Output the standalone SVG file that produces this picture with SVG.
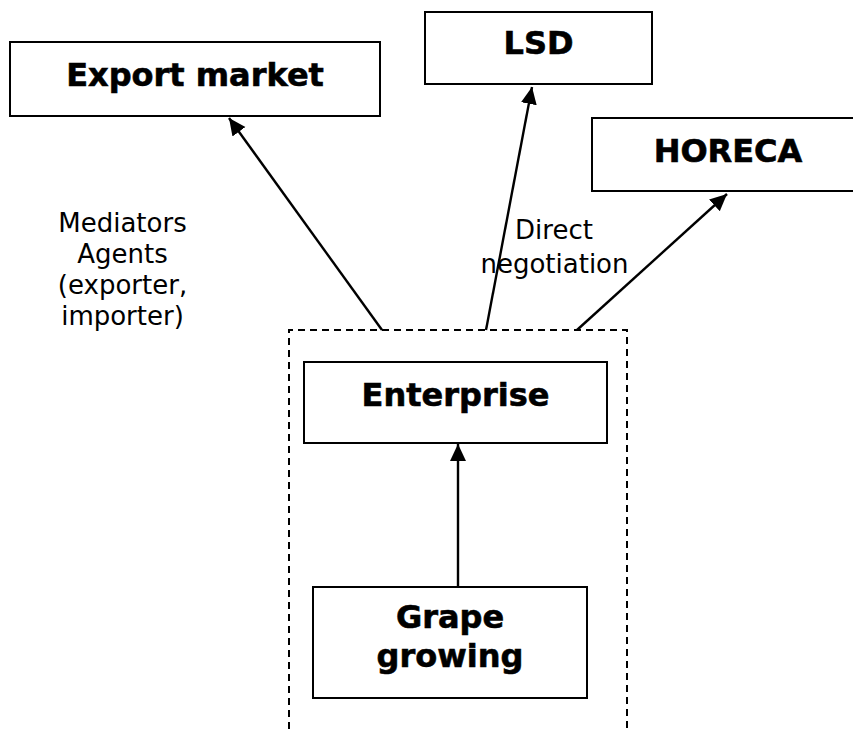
<svg xmlns="http://www.w3.org/2000/svg" width="853" height="729" viewBox="0 0 853 729">
  <style>
    .box { fill: #ffffff; stroke: #000000; stroke-width: 2; }
    .bold { font-family: "DejaVu Sans", Verdana, sans-serif; font-weight: bold; font-size: 32px; fill: #000; stroke: #000; stroke-width: 0.6; text-anchor: middle; }
    .label { font-family: "DejaVu Sans", Verdana, sans-serif; font-size: 26px; fill: #000; text-anchor: middle; }
    .conn { fill: none; stroke: #000; stroke-width: 2.4; }
    .dash { fill: none; stroke: #000; stroke-width: 2; stroke-dasharray: 7 5; }
  </style>
  <defs>
    <marker id="arrow" markerUnits="userSpaceOnUse" markerWidth="20" markerHeight="18" refX="17" refY="8" orient="auto">
      <path d="M0,0 L17,8 L0,16 Z" fill="#000"/>
    </marker>
  </defs>
  <rect width="853" height="729" fill="#ffffff"/>

  <g id="group-boundary">
    <path class="dash" d="M289,729 V330 H627 V729"/>
  </g>

  <g id="export-market">
    <rect class="box" x="10" y="42" width="370" height="74"/>
    <text class="bold" x="195" y="86">Export market</text>
  </g>

  <g id="lsd">
    <rect class="box" x="425" y="12" width="227" height="72"/>
    <text class="bold" x="538.5" y="54">LSD</text>
  </g>

  <g id="horeca">
    <rect class="box" x="592" y="118" width="272" height="73"/>
    <text class="bold" x="728" y="161.5">HORECA</text>
  </g>

  <g id="enterprise">
    <rect class="box" x="304" y="362" width="303" height="81"/>
    <text class="bold" x="455.5" y="405.5">Enterprise</text>
  </g>

  <g id="grape-growing">
    <rect class="box" x="313" y="587" width="274" height="111"/>
    <text class="bold" x="450" y="628">Grape</text>
    <text class="bold" x="450" y="667">growing</text>
  </g>

  <g id="connectors">
    <line class="conn" x1="382" y1="330" x2="229" y2="118" marker-end="url(#arrow)"/>
    <line class="conn" x1="486" y1="330" x2="532" y2="87" marker-end="url(#arrow)"/>
    <line class="conn" x1="577" y1="330" x2="727" y2="194" marker-end="url(#arrow)"/>
    <line class="conn" x1="458" y1="587" x2="458" y2="444" marker-end="url(#arrow)"/>
  </g>

  <g id="labels">
    <text class="label" x="122.5" y="232">Mediators</text>
    <text class="label" x="122.5" y="263">Agents</text>
    <text class="label" x="122.5" y="294">(exporter,</text>
    <text class="label" x="122.5" y="325">importer)</text>
    <text class="label" x="554" y="239">Direct</text>
    <text class="label" x="554.5" y="273">negotiation</text>
  </g>
</svg>
